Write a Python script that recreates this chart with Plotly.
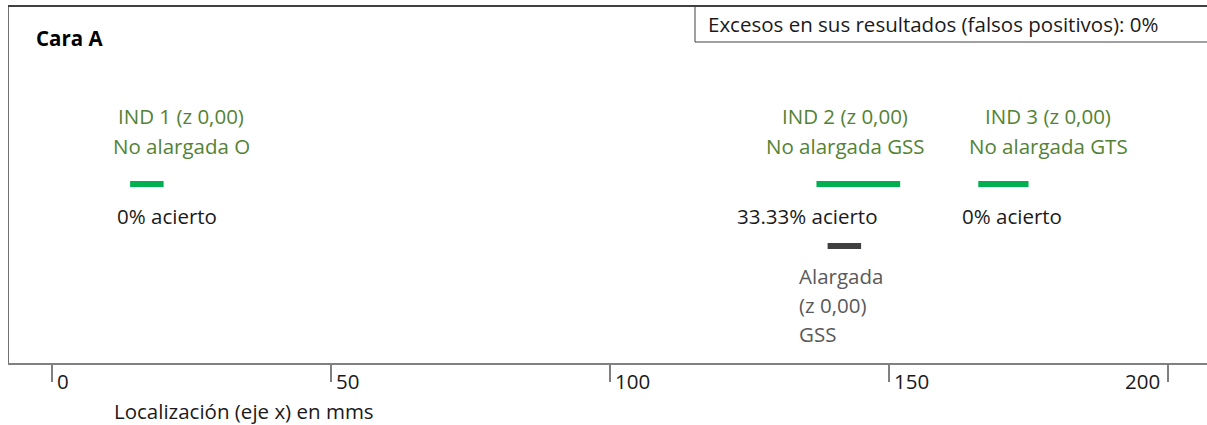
import plotly.graph_objects as go

# ---- data ----
ticks = [0, 50, 100, 150, 200]
ind_labels = ["IND 1 (z 0,00)", "IND 2 (z 0,00)", "IND 3 (z 0,00)"]
ind_types = ["No alargada O", "No alargada GSS", "No alargada GTS"]
ind_start = [14, 137, 166]
ind_end = [20, 152, 175]
acierto = ["0% acierto", "33.33% acierto", "0% acierto"]
alarg_start = [139]
alarg_end = [145]
alarg_text = ["Alargada", "(z 0,00)", "GSS"]
title_text = "Cara A"
box_text = "Excesos en sus resultados (falsos positivos): 0%"
xlabel = "Localización (eje x) en mms"

W, H = 1207, 425
ML, MB = 8, 62
AX_Y = H - MB  # pixel row of the axis line
PX0, SCALE = 52.0, 5.58  # pixel of 0 and pixels per unit


def px2val(px):
    return (px - PX0) / SCALE


def py2paper(py):
    return (AX_Y - py) / AX_Y


FONT = "Open Sans"
FS = 20.5
GREEN_TXT = "#548235"
GREEN_BAR = "#00B050"
GRAY_TXT = "#595959"
TXT = "#1a1a1a"

fig = go.Figure()

for s, e in zip(ind_start, ind_end):
    fig.add_trace(go.Scatter(x=[s, e], y=[184, 184], mode="lines",
                             line=dict(color=GREEN_BAR, width=6),
                             hoverinfo="skip", showlegend=False))
for s, e in zip(alarg_start, alarg_end):
    fig.add_trace(go.Scatter(x=[s, e], y=[246, 246], mode="lines",
                             line=dict(color="#404040", width=6),
                             hoverinfo="skip", showlegend=False))

ann = []
label_px = [181, 845, 1048]
acierto_px = [167, 807, 1012]
for i in range(3):
    ann.append(dict(x=px2val(label_px[i]), y=116, text=ind_labels[i], xref="x", yref="y",
                    showarrow=False, xanchor="center", yanchor="middle",
                    font=dict(family=FONT, size=FS, color=GREEN_TXT)))
    ann.append(dict(x=px2val(label_px[i]), y=146, text=ind_types[i], xref="x", yref="y",
                    showarrow=False, xanchor="center", yanchor="middle",
                    font=dict(family=FONT, size=FS, color=GREEN_TXT)))
    ann.append(dict(x=px2val(acierto_px[i]), y=216, text=acierto[i], xref="x", yref="y",
                    showarrow=False, xanchor="center", yanchor="middle",
                    font=dict(family=FONT, size=FS, color=TXT)))
for j, t in enumerate(alarg_text):
    ann.append(dict(x=px2val(797), y=276 + 29 * j, text=t, xref="x", yref="y",
                    showarrow=False, xanchor="left", yanchor="middle",
                    font=dict(family=FONT, size=FS, color=GRAY_TXT)))

# tick labels (below the axis -> paper coordinates for y)
for t in ticks:
    right = t != 200
    ann.append(dict(x=t, y=py2paper(381), text=str(t), xref="x", yref="paper", showarrow=False,
                    xanchor="left" if right else "right", yanchor="middle",
                    xshift=3 if right else -6,
                    font=dict(family=FONT, size=FS, color=TXT)))

ann.append(dict(x=px2val(34), y=38, text="<b>" + title_text + "</b>", xref="x", yref="y",
                showarrow=False, xanchor="left", yanchor="middle",
                font=dict(family=FONT, size=FS, color="#000000")))
ann.append(dict(x=px2val(706), y=24, text=box_text, xref="x", yref="y",
                showarrow=False, xanchor="left", yanchor="middle",
                font=dict(family=FONT, size=FS, color=TXT)))
ann.append(dict(x=px2val(112), y=py2paper(411), text=xlabel, xref="x", yref="paper",
                showarrow=False, xanchor="left", yanchor="middle",
                font=dict(family=FONT, size=FS, color=TXT)))

x_left = px2val(ML)
x_right = px2val(W)
shapes = [
    dict(type="line", x0=x_left, x1=x_right, y0=6, y1=6, xref="x", yref="y",
         line=dict(color="#000000", width=1.5)),
    dict(type="line", x0=x_left, x1=x_left, y0=6, y1=AX_Y, xref="x", yref="y",
         line=dict(color="#404040", width=1.5)),
    dict(type="line", x0=px2val(695), x1=px2val(695), y0=6, y1=42, xref="x", yref="y",
         line=dict(color="#404040", width=1)),
    dict(type="line", x0=px2val(695), x1=x_right, y0=42, y1=42, xref="x", yref="y",
         line=dict(color="#404040", width=1)),
    dict(type="line", x0=px2val(0), x1=x_left, y0=185, y1=185, xref="x", yref="y",
         line=dict(color="#404040", width=1)),
    dict(type="line", x0=px2val(0), x1=x_left, y0=240, y1=240, xref="x", yref="y",
         line=dict(color="#404040", width=1)),
]

fig.update_layout(
    width=W, height=H,
    margin=dict(l=ML, r=0, t=0, b=MB),
    paper_bgcolor="white", plot_bgcolor="white",
    xaxis=dict(range=[x_left, x_right], showgrid=False, zeroline=False,
               showline=True, linecolor="#808080", linewidth=2,
               ticks="outside", tickvals=ticks, ticklen=17, tickcolor="#808080",
               tickwidth=1.5, showticklabels=False),
    yaxis=dict(range=[AX_Y, 0], showgrid=False, zeroline=False, visible=False),
    annotations=ann, shapes=shapes,
)
fig.write_html("out.html", config={"displayModeBar": False},
               post_script="document.body.style.margin='0';document.body.style.overflow='hidden';")
